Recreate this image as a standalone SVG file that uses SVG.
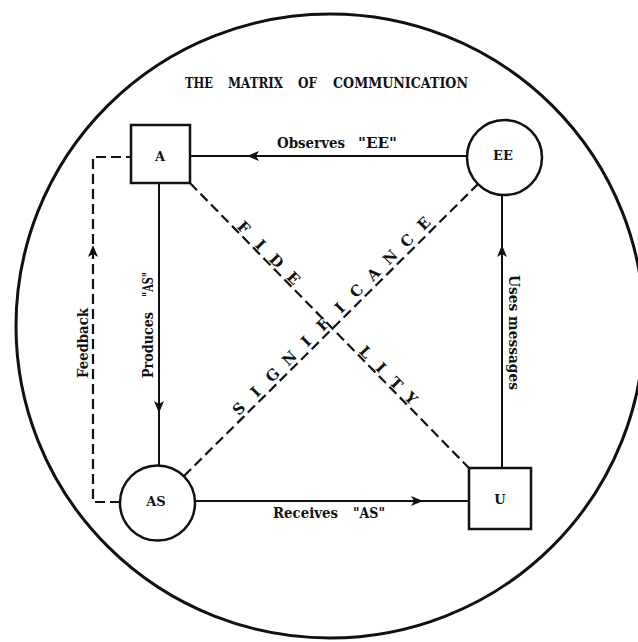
<svg xmlns="http://www.w3.org/2000/svg" xmlns:xlink="http://www.w3.org/1999/xlink" width="638" height="642" viewBox="0 0 638 642">
<defs>
<style>
.frame{fill:none;stroke:#111;stroke-width:3}
.node{fill:#fff;stroke:#111;stroke-width:2.5}
.solid{fill:none;stroke:#111;stroke-width:2}
.dash{fill:none;stroke:#111;stroke-width:2.2;stroke-dasharray:10 5}
.t{font-family:"DejaVu Serif","Liberation Serif",serif;font-weight:bold;fill:#111}
.title{font-size:15px}
.lbl{font-size:14px}
.nl{font-size:13px;text-anchor:middle}
.diag{font-size:15px;text-anchor:middle}
.ah{fill:#111}
</style>
<path id="ah" class="ah" d="M0,0 L-12,-5 L-9,0 L-12,5 Z"/>
</defs>
<rect width="638" height="642" fill="#fff"/>
<ellipse class="frame" cx="330" cy="326" rx="314" ry="312"/>
<g id="title">
<text class="t title" y="88"><tspan x="185" textLength="28" lengthAdjust="spacingAndGlyphs">THE</tspan><tspan x="228" textLength="55" lengthAdjust="spacingAndGlyphs">MATRIX</tspan><tspan x="298" textLength="19" lengthAdjust="spacingAndGlyphs">OF</tspan><tspan x="333" textLength="135" lengthAdjust="spacingAndGlyphs">COMMUNICATION</tspan></text>
</g>
<g id="connectors">
<path class="solid" d="M190,156 H467"/>
<use xlink:href="#ah" transform="translate(247,156) rotate(180)"/>
<text class="t lbl" y="148"><tspan x="277" textLength="68" lengthAdjust="spacingAndGlyphs">Observes</tspan><tspan x="358" textLength="39" lengthAdjust="spacingAndGlyphs">"EE"</tspan></text>
<path class="solid" d="M159,183 V466"/>
<use xlink:href="#ah" transform="translate(159,413) rotate(90)"/>
<text class="t lbl" transform="translate(153,378) rotate(-90)" y="0"><tspan x="0" textLength="66" lengthAdjust="spacingAndGlyphs">Produces</tspan><tspan x="81" textLength="25" lengthAdjust="spacingAndGlyphs">"AS"</tspan></text>
<path class="solid" d="M195,501 H469"/>
<use xlink:href="#ah" transform="translate(423,501)"/>
<text class="t lbl" y="518"><tspan x="273" textLength="65" lengthAdjust="spacingAndGlyphs">Receives</tspan><tspan x="353" textLength="32" lengthAdjust="spacingAndGlyphs">"AS"</tspan></text>
<path class="solid" d="M502,468 V195"/>
<use xlink:href="#ah" transform="translate(502,245) rotate(-90)"/>
<text class="t lbl" transform="translate(509,275) rotate(90)" x="0" y="0" textLength="115" lengthAdjust="spacingAndGlyphs">Uses messages</text>
<path class="dash" d="M120,502 H93 V157 H131"/>
<use xlink:href="#ah" transform="translate(93,245) rotate(-90)"/>
<text class="t lbl" transform="translate(88,378) rotate(-90)" x="0" y="0" textLength="70" lengthAdjust="spacingAndGlyphs">Feedback</text>
<path class="dash" d="M190,183 L469,468"/>
<text class="t diag" transform="translate(333,329) rotate(45.6)" y="-2" x="-135 -111 -88 -64 39.5 61 83 104">FIDELITY</text>
<path class="dash" d="M184,476 L478,184"/>
<text class="t diag" transform="translate(333,329) rotate(-45)" y="-5" x="-123 -99.2 -75.4 -51.6 -27.8 -4 19.8 43.6 67.4 91.2 115 138.8">SIGNIFICANCE</text>
</g>
<g id="node-A">
<rect class="node" x="131" y="125" width="59" height="58"/>
<text class="t nl" x="160" y="161">A</text>
</g>
<g id="node-EE">
<circle class="node" cx="504.5" cy="157.5" r="37.5"/>
<text class="t nl" x="503" y="160">EE</text>
</g>
<g id="node-AS">
<circle class="node" cx="157.5" cy="503" r="37.5"/>
<text class="t nl" x="156" y="506">AS</text>
</g>
<g id="node-U">
<rect class="node" x="469" y="468" width="62" height="61"/>
<text class="t nl" x="500" y="504">U</text>
</g>
</svg>
